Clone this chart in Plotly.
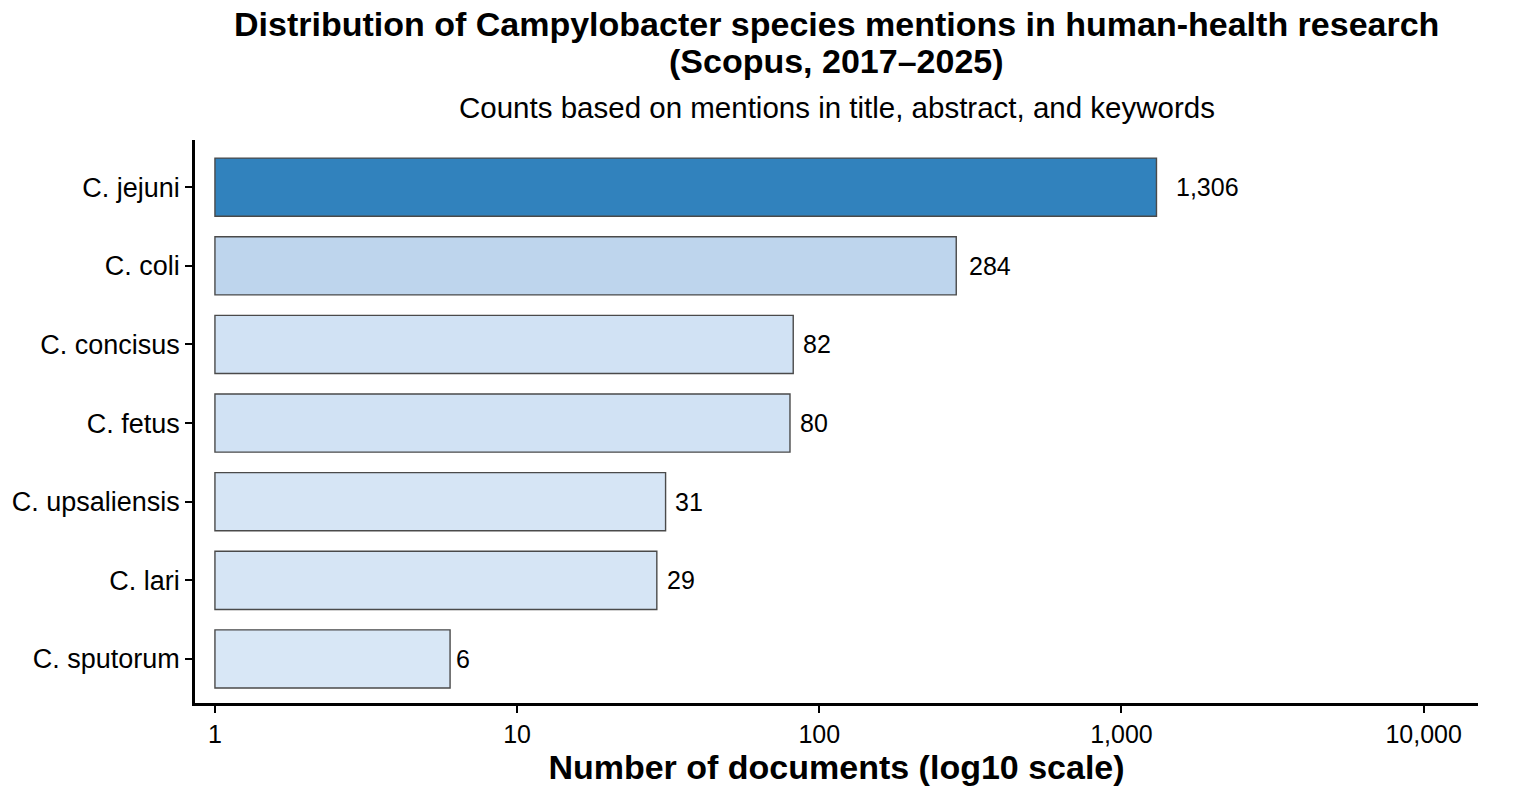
import math
import plotly.graph_objects as go

# data (bottom to top)
species = ["C. sputorum", "C. lari", "C. upsaliensis", "C. fetus",
           "C. concisus", "C. coli", "C. jejuni"]
counts = [6, 29, 31, 80, 82, 284, 1306]
labels = ["{:,}".format(c) for c in counts]

tick_vals = [1, 10, 100, 1000, 10000]
tick_text = ["1", "10", "100", "1,000", "10,000"]

title_lines = ["Distribution of Campylobacter species mentions in human-health research",
               "(Scopus, 2017\u20132025)"]
subtitle = "Counts based on mentions in title, abstract, and keywords"

FONT = "Arial, Liberation Sans, sans-serif"

fig = go.Figure()

# bars start at 1 on the log axis, like the ggplot original
fig.add_trace(go.Bar(
    y=species,
    x=[c - 1 for c in counts],
    base=[1] * len(counts),
    orientation="h",
    width=0.74,
    marker=dict(
        color=counts,
        colorscale=[[0, "#d8e7f6"], [0.2, "#c0d6ee"], [1, "#3182bd"]],
        line=dict(color="#4a4a4a", width=1.4),
    ),
    showlegend=False,
    hoverinfo="skip",
))

# value labels to the right of each bar (annotation x is in log units on a log axis)
for sp, c, lab in zip(species, counts, labels):
    fig.add_annotation(
        x=math.log10(c), y=sp, xref="x", yref="y",
        text=lab, showarrow=False,
        xanchor="left", yanchor="middle",
        xshift=1 + 3.4 * len(lab),
        font=dict(family=FONT, size=25, color="black"),
    )

for line, shift in zip(title_lines, [116, 79]):
    fig.add_annotation(
        x=0.5, y=1, xref="paper", yref="paper", yshift=shift,
        text="<b>" + line + "</b>",
        showarrow=False, xanchor="center", yanchor="middle",
        font=dict(family=FONT, size=34, color="black"),
    )
fig.add_annotation(
    x=0.5, y=1, xref="paper", yref="paper", yshift=33,
    text=subtitle,
    showarrow=False, xanchor="center", yanchor="middle",
    font=dict(family=FONT, size=29.5, color="black"),
)

# the page puts the figure 8px in from the top-left corner
fig.update_layout(
    width=1527, height=792,
    margin=dict(l=187, r=57, t=132, b=97),
    paper_bgcolor="white", plot_bgcolor="white",
    font=dict(family=FONT, color="black"),
)

fig.update_xaxes(
    type="log",
    range=[-0.066, 4.18],
    tickvals=tick_vals, ticktext=tick_text,
    ticks="outside", ticklen=7, tickwidth=2, tickcolor="black",
    showline=True, linecolor="black", linewidth=2.5,
    showgrid=False, zeroline=False, automargin=False,
    tickfont=dict(family=FONT, size=25, color="black"),
    title=dict(text="<b>Number of documents (log10 scale)</b>",
               font=dict(family=FONT, size=34, color="black"), standoff=8),
)
fig.update_yaxes(
    categoryorder="array", categoryarray=species,
    range=[-0.56, 6.6],
    ticks="outside", ticklen=7, tickwidth=2, tickcolor="black",
    showline=True, linecolor="black", linewidth=2.5,
    showgrid=False, zeroline=False, automargin=False,
    tickfont=dict(family=FONT, size=27, color="black"),
)

fig.write_html("out.html")
